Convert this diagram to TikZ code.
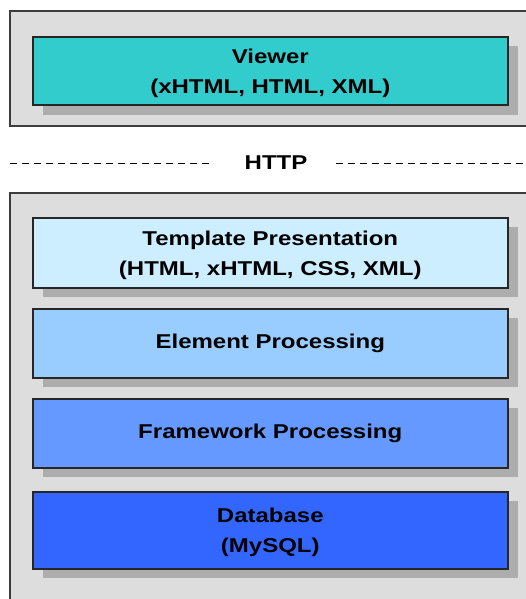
\documentclass[tikz,border=0pt]{standalone}
\usepackage{fontspec}
\setmainfont{Liberation Sans}[FakeStretch=1.2]
\definecolor{panelfill}{HTML}{DDDDDD}
\definecolor{panelline}{HTML}{3C3C3C}
\definecolor{shadowgray}{HTML}{ADADAD}
\definecolor{viewerc}{HTML}{33CCCC}
\definecolor{templc}{HTML}{CCEEFF}
\definecolor{elemc}{HTML}{99CCFF}
\definecolor{framec}{HTML}{6699FF}
\definecolor{dbc}{HTML}{3366FF}
\newcommand{\mytopstrut}{\rule{0pt}{18.8pt}}
\begin{document}
\begin{tikzpicture}[x=1pt,y=-1pt,
  layerbox/.style={draw=black!85,line width=1.6pt,minimum width=475pt,inner sep=0pt,
    align=center,font=\fontsize{20}{30}\selectfont\bfseries,anchor=north west},
  panel/.style={fill=panelfill,draw=panelline,line width=1.6pt}]
\useasboundingbox (0,0) rectangle (526,599);
\clip (0,0) rectangle (526,599);
\fill[white] (0,0) rectangle (526,599);
% panels
\draw[panel] (10,11) rectangle (540,126);
\draw[panel] (10,193) rectangle (540,620);
% shadows
\fill[shadowgray] (43,46) rectangle (518,115);
\fill[shadowgray] (43,227) rectangle (518,297);
\fill[shadowgray] (43,318) rectangle (518,387);
\fill[shadowgray] (43,408) rectangle (518,477);
\fill[shadowgray] (43,501) rectangle (518,578);
% boxes
\node[layerbox,fill=viewerc,minimum height=68pt] (viewer) at (32,36) {\mytopstrut Viewer\\(xHTML, HTML, XML)};
\node[layerbox,fill=templc,minimum height=70pt] (templ) at (32,217) {\mytopstrut Template Presentation\\(HTML, xHTML, CSS, XML)};
\node[layerbox,fill=elemc,minimum height=69pt] (elem) at (32,308) {Element Processing};
\node[layerbox,fill=framec,minimum height=69pt] (frame) at (32,398) {Framework Processing};
\node[layerbox,fill=dbc,minimum height=77pt] (db) at (32,491) {\mytopstrut Database\\(MySQL)};
% HTTP
\node[font=\fontsize{20}{24}\selectfont\bfseries] (http) at (276,163) {HTTP};
\coordinate (lstart) at (10,163);
\coordinate (rend) at (530,163);
\draw[line width=0.9pt,dash pattern=on 7pt off 5pt] (lstart) -- (210,163);
\draw[line width=0.9pt,dash pattern=on 7pt off 5pt] (336,163) -- (rend);
\end{tikzpicture}
\end{document}
